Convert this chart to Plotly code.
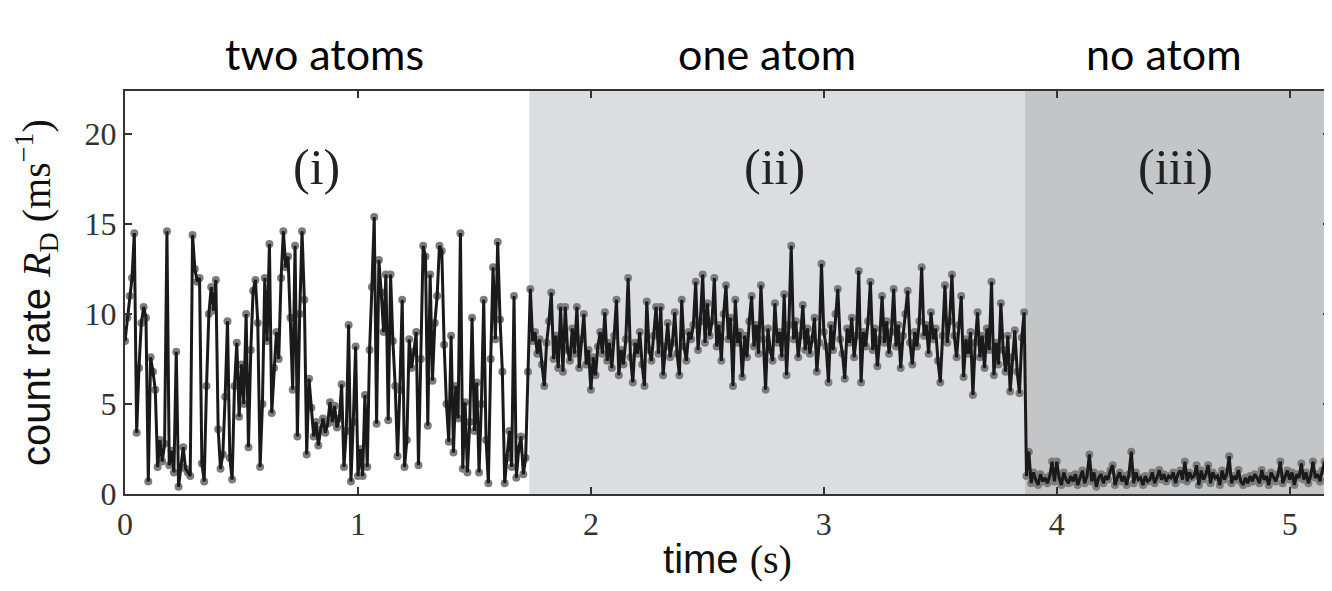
import numpy as np
import plotly.graph_objects as go

# ---- data (count rate, ms^-1), sampled every 10 ms ----
dt = 0.01
rate_two_atoms = [
    8.5, 9.8, 11.0, 12.0, 14.5, 3.4, 7.0, 9.5, 10.4, 9.8,
    0.7, 7.6, 6.8, 5.8, 1.5, 3.0, 1.8, 2.8, 14.6, 1.6,
    2.4, 1.2, 7.9, 0.4, 1.5, 2.6, 1.4, 1.2, 1.0, 14.4,
    12.5, 11.8, 12.0, 1.7, 0.7, 6.0, 10.0, 11.5, 10.2, 11.9,
    3.6, 1.4, 2.2, 5.4, 9.6, 2.0, 0.8, 6.0, 8.4, 4.3,
    7.2, 5.0, 10.0, 2.6, 8.0, 11.3, 11.9, 9.5, 1.5, 5.0,
    12.0, 8.5, 13.9, 4.5, 7.0, 9.0, 7.5, 12.0, 14.6, 12.6,
    13.2, 9.8, 5.8, 13.8, 3.2, 10.0, 14.6, 10.8, 2.2, 6.4,
    4.8, 3.2, 4.0, 2.7, 3.6, 4.2, 3.4, 3.9, 5.1, 4.0,
    4.9, 3.7, 4.2, 6.1, 1.5, 3.5, 9.4, 0.7, 4.0, 8.2,
    1.0, 2.5, 1.0, 5.5, 1.5, 8.0, 11.5, 15.4, 3.9, 13.0,
    11.2, 9.0, 12.2, 4.1, 12.2, 8.5, 6.0, 2.1, 5.8, 10.8,
    1.5, 3.0, 8.6, 7.0, 7.9, 9.0, 1.6, 7.5, 13.8, 13.2,
    3.8, 12.2, 6.3, 9.5, 11.0, 13.8, 13.5, 8.3, 5.0, 2.9,
    8.8, 2.3, 6.0, 4.2, 14.5, 1.4, 5.1, 1.2, 4.0, 9.8,
    3.5, 6.2, 1.2, 5.0, 10.8, 3.0, 0.6, 7.5, 12.6, 8.6,
    14.0, 9.7, 6.8, 0.6, 2.0, 3.5, 1.5, 11.0, 0.9, 2.5,
    3.2, 1.1, 2.0, 6.8,
]
rate_one_atom = [
    11.4, 8.5, 9.0, 7.8, 8.6, 7.2, 6.0, 8.4, 9.6, 11.2,
    7.5, 8.8, 7.0, 10.4, 6.8, 10.4, 8.0, 7.4, 9.2, 7.8,
    10.4, 7.0, 8.6, 10.0, 7.2, 8.0, 5.8, 7.6, 6.6, 8.2,
    9.0, 7.8, 10.1, 7.4, 8.4, 7.0, 8.8, 10.8, 6.6, 8.0,
    7.2, 8.6, 12.0, 7.6, 6.2, 8.4, 7.8, 9.0, 7.2, 6.0,
    10.7, 8.0, 7.4, 8.8, 10.4, 7.8, 10.4, 6.6, 8.2, 9.5,
    7.6, 8.4, 10.1, 7.8, 6.6, 10.8, 8.2, 7.4, 9.0, 8.6,
    9.4, 11.8, 8.0, 9.6, 12.2, 8.4, 10.6, 8.8, 9.6, 12.0,
    8.2, 9.4, 7.4, 10.0, 11.6, 8.6, 9.8, 6.0, 10.8, 8.4,
    9.0, 6.5, 8.8, 7.6, 9.6, 11.0, 8.2, 9.4, 7.8, 11.6,
    8.6, 5.8, 9.2, 8.0, 7.4, 10.6, 8.4, 9.0, 7.6, 11.1,
    6.6, 9.4, 13.8, 8.6, 9.6, 7.6, 8.8, 10.5, 8.0, 9.2,
    7.8, 8.6, 9.8, 6.8, 8.4, 12.8, 9.0, 8.2, 6.2, 9.4,
    8.0, 10.0, 11.4, 8.6, 7.8, 6.4, 9.2, 8.4, 9.8, 7.6,
    8.8, 12.4, 6.2, 9.0, 8.2, 9.6, 11.8, 8.0, 9.2, 7.1,
    8.6, 11.0, 8.4, 9.6, 7.8, 9.0, 11.4, 8.2, 9.4, 7.0,
    8.8, 10.0, 11.3, 8.4, 7.2, 9.0, 8.2, 9.6, 12.6, 8.8,
    9.4, 7.8, 10.1, 8.6, 9.2, 7.4, 6.2, 8.8, 11.6, 8.4,
    9.6, 12.2, 8.8, 7.6, 9.4, 11.0, 6.5, 8.6, 7.8, 9.0,
    5.5, 8.4, 10.1, 7.6, 8.8, 7.0, 9.2, 8.0, 11.8, 6.6,
    8.4, 7.2, 10.6, 8.0, 6.8, 8.8, 5.7, 7.6, 9.1, 6.8,
    5.6, 8.7, 10.1,
]
rate_no_atom = [
    1.0, 2.35, 0.6, 1.2, 0.8, 0.5, 1.1, 0.7, 0.9, 0.6,
    1.0, 1.8, 0.7, 1.8, 0.9, 0.5, 1.2, 0.8, 0.6, 1.0,
    0.7, 1.1, 0.5, 0.9, 1.3, 0.6, 1.0, 2.2, 0.7, 1.2,
    0.4, 0.9, 1.1, 0.6, 1.0, 0.8, 1.3, 1.6, 0.5, 0.9,
    1.2, 0.7, 1.0, 0.5, 1.1, 2.35, 0.6, 1.2, 0.8, 0.9,
    0.5, 1.0, 0.7, 0.8, 1.2, 0.6, 0.9, 1.33, 0.8, 1.1,
    0.7, 1.0, 0.9, 1.2, 0.6, 1.1, 1.3, 0.8, 1.8, 0.7,
    1.2, 0.9, 1.0, 1.6, 0.5, 1.3, 0.8, 1.1, 1.6, 0.6,
    1.2, 0.9, 1.0, 0.5, 1.3, 0.8, 1.1, 2.1, 0.6, 1.0,
    0.8, 1.33, 0.7, 0.5, 0.9, 0.6, 1.0, 0.7, 1.1, 0.9,
    0.6, 1.33, 0.8, 1.0, 0.5, 1.2, 0.9, 0.7, 1.1, 1.8,
    0.6, 1.0, 1.3, 0.8, 1.2, 0.5, 1.1, 0.9, 1.7, 0.8,
    1.2, 0.6, 1.0, 1.8, 0.9, 1.1, 0.7, 1.3, 1.8, 0.8,
    1.2,
]
region_edges = [0.0, 1.736, 3.864, 5.175]
region_labels = ["(i)", "(ii)", "(iii)"]
region_label_x = [0.82, 2.79, 4.51]
state_labels = ["two atoms", "one atom", "no atom"]
state_label_x = [0.855, 2.755, 4.46]
x_ticks = [0, 1, 2, 3, 4, 5]
y_ticks = [0, 5, 10, 15, 20]

rate = rate_two_atoms + rate_one_atom + rate_no_atom
time = np.arange(len(rate)) * dt

SERIF = "Liberation Serif, DejaVu Serif, serif"
SANS = "Liberation Sans, Arial, sans-serif"

fig = go.Figure()

# shaded regions
fig.add_vrect(x0=region_edges[1], x1=region_edges[2], fillcolor="#dcdde0",
              line_width=0, layer="below")
fig.add_vrect(x0=region_edges[2], x1=region_edges[3] + 0.1, fillcolor="#c4c5c7",
              line_width=0, layer="below")

# markers first (behind), then the black line
fig.add_trace(go.Scatter(x=time, y=rate, mode="markers",
                         marker=dict(size=8, color="#7d7d7d",
                                     line=dict(width=0)),
                         hoverinfo="skip", showlegend=False))
fig.add_trace(go.Scatter(x=time, y=rate, mode="lines",
                         line=dict(color="#1a1a1a", width=3),
                         showlegend=False))

for lab, xx in zip(region_labels, region_label_x):
    fig.add_annotation(x=xx, y=18.2, xref="x", yref="y", text=lab,
                       showarrow=False, font=dict(family=SERIF, size=50, color="#222"))

for lab, xx in zip(state_labels, state_label_x):
    fig.add_annotation(x=xx, y=1.094, xref="x", yref="paper", text=lab,
                       showarrow=False, yanchor="middle",
                       font=dict(family="Lato, Open Sans, sans-serif", size=43, color="#000"))

fig.update_layout(
    width=1324, height=583,
    margin=dict(l=117, r=0, t=83, b=97),
    paper_bgcolor="white", plot_bgcolor="white",
    showlegend=False,
)
fig.update_xaxes(
    range=[0, 5.173], tickvals=x_ticks, ticktext=[str(v) for v in x_ticks],
    ticks="inside", ticklen=7, tickwidth=1.5, tickcolor="#333",
    showline=True, linecolor="#333", linewidth=2.2, mirror="ticks",
    showgrid=False, zeroline=False,
    tickfont=dict(family=SERIF, size=32, color="#333"),
    title=dict(text='time <span style="font-family:Liberation Serif">(s)</span>',
               font=dict(family=SANS, size=40, color="#111"), standoff=4),
)
fig.update_yaxes(
    range=[0, 22.4], tickvals=y_ticks, ticktext=[str(v) for v in y_ticks],
    ticks="inside", ticklen=7, tickwidth=1.5, tickcolor="#333",
    showline=True, linecolor="#333", linewidth=2.2, mirror="ticks",
    showgrid=False, zeroline=False,
    tickfont=dict(family=SERIF, size=32, color="#333"),
    title=dict(text='count rate <span style="font-family:Liberation Serif"><i>R</i><sub>D</sub> (ms<sup>−1</sup>)</span>',
               font=dict(family=SANS, size=40, color="#111"), standoff=22),
)

fig.write_html("out.html")
